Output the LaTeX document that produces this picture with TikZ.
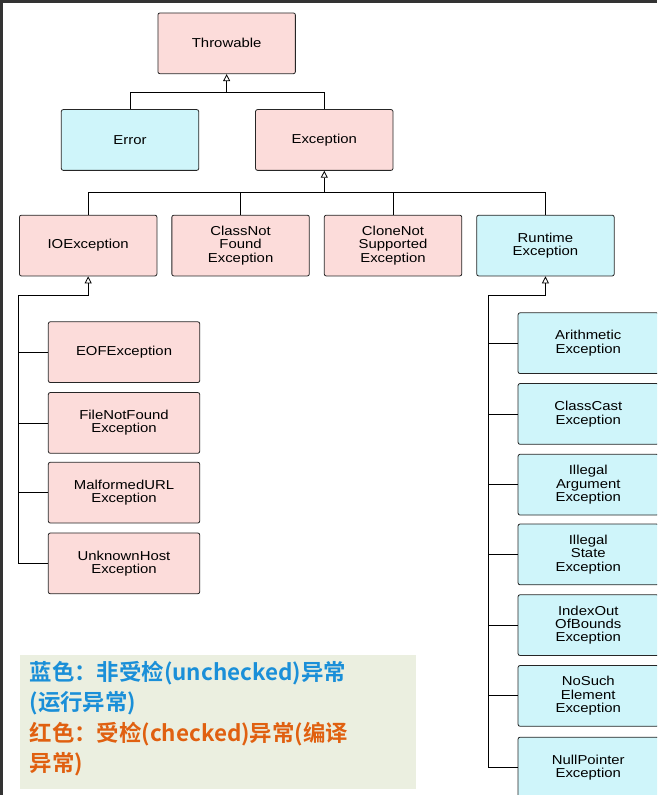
\documentclass[tikz,border=0pt]{standalone}
\usepackage{fontspec}
\setmainfont{Liberation Sans}
\newfontfamily\boxfont{Liberation Sans}[FakeStretch=1.15]
\newfontfamily\cjk{Noto Sans CJK SC}[BoldFont={Noto Sans CJK SC Bold}]
\usetikzlibrary{arrows.meta,positioning}
\definecolor{chkpink}{RGB}{252,220,218}
\definecolor{unchkblue}{RGB}{207,245,250}
\definecolor{noteback}{RGB}{235,239,224}
\definecolor{noteblue}{RGB}{26,143,216}
\definecolor{notered}{RGB}{224,96,16}

\begin{document}
\begin{tikzpicture}[
        x=1pt, y=-1pt,
        cls/.style={draw=black!85, thick, rounded corners=2pt, minimum width=138pt, minimum height=61pt, align=center, font=\boxfont\fontsize{13}{13.5}\selectfont},
        checked/.style={cls, fill=chkpink},
        unchecked/.style={cls, fill=unchkblue},
        sub/.style={minimum width=152pt},
        wide/.style={minimum width=141pt},
        inherit/.style={-{Triangle[open, length=7pt, width=7pt]}, thick},
        bus/.style={thick}
    ]
        \fill[white] (0,0) rectangle (658,796);
        \draw[black!80, line width=3pt] (0,796) -- (0,0) -- (658,0);
        \clip (0,0) rectangle (658,796);

        % Top levels
        \node[checked] (throwable) at (226,42) {Throwable};
        \node[unchecked] (error) at (129,139) {Error};
        \node[checked] (exception) at (324,139) {Exception};

        % Exception children
        \node[checked] (io) at (87,245) {IOException};
        \node[checked] (cnf) at (240,245) {ClassNot\\Found\\Exception};
        \node[checked] (cns) at (393,245) {CloneNot\\Supported\\Exception};
        \node[unchecked] (runtime) at (546,245) {Runtime\\Exception};

        % IOException children
        \node[checked, sub] (eof) at (123,352) {EOFException};
        \node[checked, sub] (fnf) at (123,423) {FileNotFound\\Exception};
        \node[checked, sub] (murl) at (123,493) {MalformedURL\\Exception};
        \node[checked, sub] (uhost) at (123,564) {UnknownHost\\Exception};

        % RuntimeException children
        \node[unchecked, wide] (arith) at (589,343) {Arithmetic\\Exception};
        \node[unchecked, wide] (ccast) at (589,414) {ClassCast\\Exception};
        \node[unchecked, wide] (illarg) at (589,485) {Illegal\\Argument\\Exception};
        \node[unchecked, wide] (illstate) at (589,555) {Illegal\\State\\Exception};
        \node[unchecked, wide] (index) at (589,626) {IndexOut\\OfBounds\\Exception};
        \node[unchecked, wide] (nosuch) at (589,697) {NoSuch\\Element\\Exception};
        \node[unchecked, wide] (nullp) at (589,769) {NullPointer\\Exception};

        % Arrows
        \draw[inherit] (error.north) |- (226,91) -| (throwable.south);
        \draw[bus] (exception.north) |- (226,91);

        \draw[inherit] (io.north) |- (324,192) -| (exception.south);
        \draw[bus] (cnf.north) |- (324,192);
        \draw[bus] (cns.north) |- (324,192);
        \draw[bus] (runtime.north) |- (324,192);

        \coordinate (iobus) at (17,295);
        \draw[inherit] (iobus) -- (87,295) -- (io.south);
        \foreach \n in {eof,fnf,murl,uhost}
            \draw[bus] (iobus) |- (\n.west);

        \coordinate (rtbus) at (489,295);
        \draw[inherit] (rtbus) -- (546,295) -- (runtime.south);
        \foreach \n in {arith,ccast,illarg,illstate,index,nosuch,nullp}
            \draw[bus] (rtbus) |- (\n.west);

        % Legend
        \node[fill=noteback, minimum width=398pt, minimum height=134pt, anchor=north west] (note) at (18,656) {};
        \node[anchor=north west, align=left, text width=390pt, inner sep=0pt, font=\cjk\bfseries\fontsize{22.5}{30.5}\selectfont] (notetext) at (28,662)
            {\color{noteblue}蓝色：非受检(unchecked)异常\\(运行异常)\\
             \color{notered}红色：受检(checked)异常(编译\\异常)};
    \end{tikzpicture}
\end{document}
